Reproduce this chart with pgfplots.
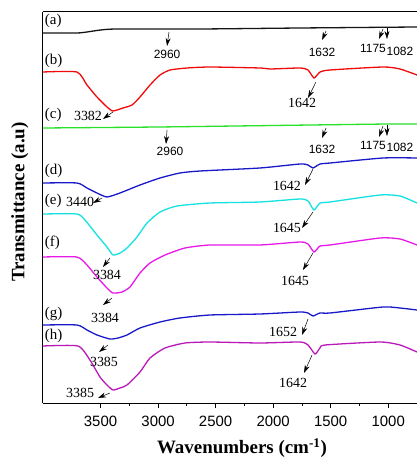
\documentclass[border=0pt]{standalone}
\usepackage{pgfplots}
\pgfplotsset{compat=1.18}
\usepackage{fontspec}
\setmainfont{Liberation Serif}
\newfontfamily\arial{Liberation Sans}
\usetikzlibrary{arrows.meta}
\definecolor{spA}{RGB}{20,20,20}
\definecolor{spB}{RGB}{240,10,10}
\definecolor{spC}{RGB}{40,225,40}
\definecolor{spD}{RGB}{25,25,200}
\definecolor{spE}{RGB}{20,225,225}
\definecolor{spF}{RGB}{230,25,230}
\definecolor{spH}{RGB}{185,25,185}

\tikzset{
    ser/.style={font=\fontsize{15}{15}\selectfont, anchor=west, inner sep=0pt},
    num/.style={font=\fontsize{14}{14}\selectfont, inner sep=0pt},
    snum/.style={font=\arial\fontsize{12}{12}\selectfont, inner sep=0pt},
}
\newcommand\arr[4]{\draw[line width=0.5bp,-{Stealth[length=8bp,width=5bp]}] (axis cs:#1,#2) -- (axis cs:#3,#4);}

\begin{document}
\begin{tikzpicture}
\useasboundingbox (-43bp,-56bp) rectangle (374bp,403bp);
\begin{axis}[
    scale only axis,
    width=374bp, height=391bp,
    x dir=reverse,
    xmin=750, xmax=4000,
    ymin=0, ymax=391,
    axis x line*=box, axis y line*=left,
    xtick={1000,1500,2000,2500,3000,3500},
    xtick pos=bottom,
    minor x tick num=1,
    ytick=\empty,
    tick align=outside,
    major tick length=5bp, minor tick length=3bp,
    every tick/.style={black, line width=0.8bp},
    axis line style={line width=1bp},
    /pgf/number format/assume math mode=true,
    /pgf/number format/set thousands separator={},
    xticklabel style={font=\arial\fontsize{15}{15}\selectfont, yshift=-5bp},
    xlabel={\textbf{Wavenumbers (cm\textsuperscript{-1})}},
    xlabel style={at={(axis description cs:0.532,-0.115)}, anchor=center, font=\fontsize{19}{19}\selectfont},
    ylabel={\textbf{Transmittance (a.u)}},
    ylabel style={at={(axis description cs:-0.062,0.514)}, anchor=center, font=\fontsize{19}{19}\selectfont},
    every axis plot/.append style={line width=1.3bp, smooth, tension=0.35},
]
% (a)
\addplot[spA] coordinates {(4000,370) (3705,370) (3618,371) (3500,373) (3357,374) (2636,374) (1767,375) (750,376)};
% (b)
\addplot[spB] coordinates {(4000,331) (3705,331) (3618,318) (3531,306) (3444,296) (3392,292) (3305,295) (3227,298) (3157,306) (3070,318) (2983,328) (2896,333) (2749,335) (2549,336) (2114,335) (2027,334) (1767,335) (1697,333) (1645,325) (1593,331) (1506,333) (1045,336) (898,334) (750,328)};
% (c)
\addplot[spC] coordinates {(4000,275) (3000,276) (2000,277.5) (1000,279) (750,279)};
% (d)
\addplot[spD] coordinates {(4000,220) (3705,220) (3618,215) (3531,210) (3444,206) (3331,210) (3157,218) (2983,225) (2810,230) (2636,232) (2114,235) (1767,239) (1697,238) (1654,235) (1593,239) (1506,240) (1045,245) (750,245)};
% (e)
\addplot[spE] coordinates {(4000,189) (3705,189) (3635,183) (3531,168) (3444,156) (3392,148) (3331,150) (3270,155) (3183,166) (3096,180) (2983,191) (2836,197) (2549,200) (2114,201) (1767,204) (1697,202) (1645,193) (1593,200) (1506,201) (1071,208) (898,207) (750,200)};
% (f)
\addplot[spF] coordinates {(4000,146) (3705,146) (3618,138) (3531,126) (3444,115) (3392,110) (3313,111) (3244,116) (3157,130) (3070,140) (2940,148) (2766,155) (2549,158) (2114,158) (1767,161) (1697,159) (1645,151) (1593,157) (1506,158) (1071,165) (898,164) (750,158)};
% (g)
\addplot[spD] coordinates {(4000,78) (3705,78) (3618,73) (3531,68) (3418,64) (3348,65) (3270,68) (3157,75) (2983,81) (2810,85) (2549,88) (2114,89) (1767,91) (1697,90) (1654,87) (1593,90) (1506,90) (1045,96) (898,95) (750,93)};
% (h)
\addplot[spH] coordinates {(4000,57) (3696,57) (3592,43) (3505,26) (3444,18) (3392,13) (3331,15) (3270,18) (3157,31) (3070,45) (2940,55) (2766,60) (2549,61) (2114,60) (1767,61) (1697,58) (1636,49) (1593,55) (1549,58) (1071,61) (898,58) (750,51)};

% series labels
\node[ser] at (axis cs:3985,382) {(a)};
\node[ser] at (axis cs:3985,342) {(b)};
\node[ser] at (axis cs:3985,288) {(c)};
\node[ser] at (axis cs:3985,232) {(d)};
\node[ser] at (axis cs:3985,202) {(e)};
\node[ser] at (axis cs:3985,160) {(f)};
\node[ser] at (axis cs:3985,89) {(g)};
\node[ser] at (axis cs:3985,67) {(h)};

% (a) peaks
\arr{2905}{371}{2922}{357} \node[snum] at (axis cs:2922,349) {2960};
\arr{1540}{372}{1575}{363} \node[snum] at (axis cs:1575,351) {1632};
\arr{1045}{374}{1080}{364} \node[snum] at (axis cs:1132,355) {1175};
\arr{1011}{375}{1011}{364} \node[snum] at (axis cs:898,352) {1082};
% (b)
\arr{3392}{291}{3479}{284} \node[num] at (axis cs:3609,287) {3382};
\arr{1628}{321}{1697}{305} \node[num] at (axis cs:1749,300) {1642};
% (c)
\arr{2922}{273}{2931}{259} \node[snum] at (axis cs:2896,252) {2960};
\arr{1540}{275}{1575}{265} \node[snum] at (axis cs:1575,254) {1632};
\arr{1045}{277}{1080}{266} \node[snum] at (axis cs:1132,258) {1175};
\arr{1011}{278}{1011}{267} \node[snum] at (axis cs:898,256) {1082};
% (d)
\arr{3487}{205}{3565}{200} \node[num] at (axis cs:3678,201) {3440};
\arr{1654}{234}{1723}{218} \node[num] at (axis cs:1880,217) {1642};
% (e)
\arr{3418}{145}{3479}{136} \node[num] at (axis cs:3444,128) {3384};
\arr{1654}{191}{1749}{175} \node[num] at (axis cs:1880,175) {1645};
% (f)
\arr{3400}{105}{3479}{98} \node[num] at (axis cs:3461,85) {3384};
\arr{1654}{150}{1741}{133} \node[num] at (axis cs:1810,122) {1645};
% (g)
\arr{3435}{58}{3513}{51} \node[num] at (axis cs:3470,41) {3385};
\arr{1697}{84}{1749}{68} \node[num] at (axis cs:1914,71) {1652};
% (h)
\arr{3418}{10}{3522}{5} \node[num] at (axis cs:3678,10) {3385};
\arr{1662}{48}{1732}{30} \node[num] at (axis cs:1827,20) {1642};
\end{axis}
\end{tikzpicture}
\end{document}
